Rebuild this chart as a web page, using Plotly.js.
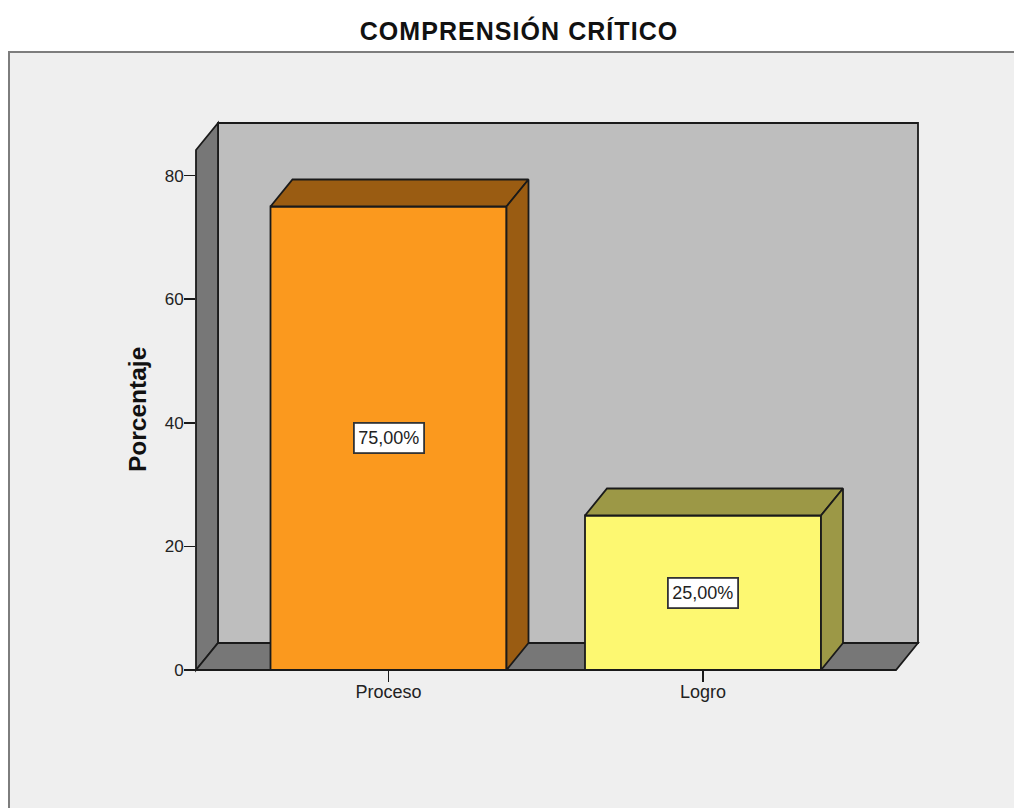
<!DOCTYPE html>
<html>
<head>
<meta charset="utf-8">
<script src="https://cdn.plot.ly/plotly-3.0.1.min.js"></script>
<style>html,body{margin:0;padding:0;background:#fff}#chart{width:1014px;height:808px}
#chart .gtitle{letter-spacing:1.05px}</style>
</head>
<body>
<div id="chart"></div>
<script>
const categories = ['Proceso', 'Logro'];
const percentages = [75, 25];
const pointLabels = ['75,00%', '25,00%'];
const yTicks = [0, 20, 40, 60, 80];
const frontColors = ['#FB991E', '#FDF871'];
const shadeColors = ['#9A5C12', '#9C9846'];

const W = 1014, H = 808;
const L = 196, R = 918, T = 123, B = 670;      // plot box in px (front axis + wall depth)
const pxPerCat = 314.5, cat0px = 388.5, pxPerUnit = 6.18;
const depthX = 22 / pxPerCat, depthY = 27 / pxPerUnit;
const barW = 236 / pxPerCat;
const xRange = [(L - cat0px) / pxPerCat, (R - cat0px) / pxPerCat];
const yRange = [0, (B - T) / pxPerUnit];
const xTop = xRange[1] - depthX, yTop = yRange[1] - depthY;
const ink = '#1a1a1a';
const lw = 1.8;

// paper coordinates span the plot box
const fx = pixel => (pixel - L) / (R - L);
const fy = pixel => (B - pixel) / (B - T);
const px = x => (x - xRange[0]) / (xRange[1] - xRange[0]);
const py = y => (y - yRange[0]) / (yRange[1] - yRange[0]);
const poly = pts => 'M' + pts.map(p => px(p[0]) + ',' + py(p[1])).join('L') + 'Z';

const traces = [{
  type: 'bar', x: [0, 1], y: percentages, width: barW,
  marker: {color: frontColors, line: {color: ink, width: lw}},
  hoverinfo: 'skip', showlegend: false
}];
percentages.forEach((v, i) => {
  const a = i - barW / 2, b = i + barW / 2;
  const face = (xs, ys) => traces.push({
    type: 'scatter', mode: 'lines', x: xs, y: ys, fill: 'toself',
    fillcolor: shadeColors[i], line: {color: ink, width: lw},
    hoverinfo: 'skip', showlegend: false
  });
  face([a, a + depthX, b + depthX, b, a], [v, v + depthY, v + depthY, v, v]);
  face([b, b + depthX, b + depthX, b, b], [v, v + depthY, depthY, 0, v]);
});

const wall = (d, fill) => ({type: 'path', xref: 'paper', yref: 'paper', path: d, fillcolor: fill,
  line: {color: ink, width: lw}, layer: 'below'});

const layout = {
  width: W, height: H,
  margin: {l: L, r: W - R, t: T, b: H - B, pad: 0},
  paper_bgcolor: '#ffffff', plot_bgcolor: 'rgba(0,0,0,0)',
  font: {family: '"Liberation Sans", Arial, sans-serif', color: '#222222', size: 17},
  title: {text: '<b>COMPRENSIÓN CRÍTICO</b>', x: 519 / W, xanchor: 'center', xref: 'container',
          y: 1 - 31.5 / H, yanchor: 'middle', font: {size: 25, color: '#111111'}},
  showlegend: false, bargap: 0,
  xaxis: {range: xRange, tickmode: 'array', tickvals: [0, 1], ticktext: categories,
          ticks: 'outside', ticklen: 11, tickwidth: 1.5, tickcolor: ink, ticklabelstandoff: -6,
          showgrid: false, zeroline: false, showline: false,
          tickfont: {size: 18}, fixedrange: true},
  yaxis: {range: yRange, tickmode: 'array', tickvals: yTicks,
          ticks: 'outside', ticklen: 11, tickwidth: 1.5, tickcolor: ink, ticklabelstandoff: -3,
          showgrid: false, zeroline: false, showline: false,
          tickfont: {size: 17}, fixedrange: true},
  shapes: [
    {type: 'rect', xref: 'paper', yref: 'paper', x0: fx(9), x1: fx(W + 10), y0: fy(H + 10), y1: fy(52),
     fillcolor: '#EFEFEF', line: {color: '#7d7d7d', width: 2}, layer: 'below'},
    wall(poly([[xRange[0] + depthX, depthY], [xRange[1], depthY], [xRange[1], yRange[1]], [xRange[0] + depthX, yRange[1]]]), '#BEBEBE'),
    wall(poly([[xRange[0], 0], [xRange[0] + depthX, depthY], [xRange[0] + depthX, yRange[1]], [xRange[0], yTop]]), '#777777'),
    wall(poly([[xRange[0], 0], [xRange[0] + depthX, depthY], [xRange[1], depthY], [xTop, 0]]), '#777777'),
    {type: 'line', xref: 'paper', yref: 'paper', x0: px(xRange[0]), x1: px(xTop), y0: py(0), y1: py(0),
     line: {color: ink, width: lw}, layer: 'above'}
  ],
  annotations: percentages.map((v, i) => ({
    x: i, y: v / 2, xref: 'x', yref: 'y', text: pointLabels[i], showarrow: false,
    bgcolor: '#ffffff', bordercolor: '#333333', borderwidth: 1.8, borderpad: 0,
    width: 68, height: 28, align: 'center', valign: 'middle',
    font: {size: 18, color: '#222222'}
  })).concat([{
    xref: 'paper', yref: 'paper', x: fx(137), y: fy(410), text: '<b>Porcentaje</b>',
    textangle: -90, showarrow: false, xanchor: 'center', yanchor: 'middle',
    font: {size: 24.5, color: '#111111'}
  }])
};
Plotly.newPlot('chart', traces, layout, {displayModeBar: false, staticPlot: true});
</script>
</body>
</html>
